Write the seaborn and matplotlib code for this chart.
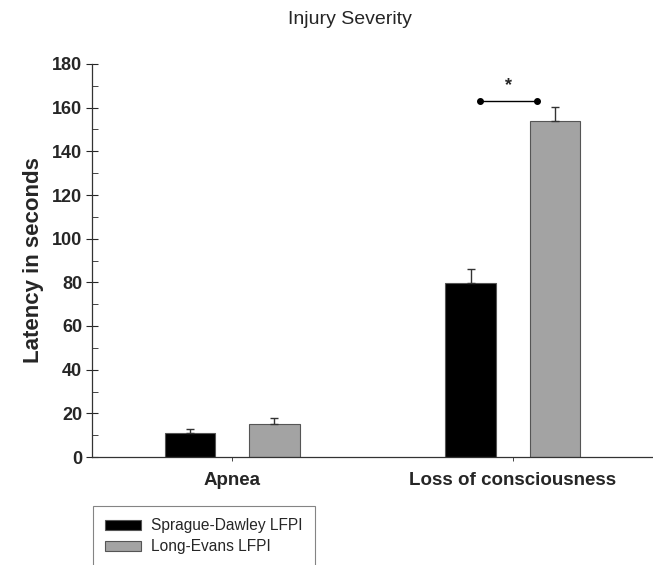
import pandas as pd
import matplotlib.pyplot as plt
import seaborn as sns
from matplotlib.ticker import MultipleLocator

# values
measures = ["Apnea", "Loss of consciousness"]
groups = ["Sprague-Dawley LFPI", "Long-Evans LFPI"]
sd_mean = [11.0, 79.6]
le_mean = [15.1, 153.9]
sd_err = [1.8, 6.4]
le_err = [2.8, 6.6]

df = pd.DataFrame({
    "measure": measures * 2,
    "group": [groups[0]] * 2 + [groups[1]] * 2,
    "latency": sd_mean + le_mean,
})
errs = {groups[0]: sd_err, groups[1]: le_err}

sns.set_style("ticks")
plt.rcParams["font.family"] = ["Liberation Sans", "DejaVu Sans"]

fig = plt.figure(figsize=(6.53, 5.65), dpi=100)
ax = fig.add_axes([92 / 653, 1 - 457 / 565, 1 - 92 / 653, (457 - 64) / 565])

sns.barplot(data=df, x="measure", y="latency", hue="group", order=measures,
            hue_order=groups, palette=["black", "#a3a3a3"], width=0.6, gap=0.4,
            edgecolor="#555555", linewidth=0.8, errorbar=None, legend=False, ax=ax)

# error bars, upper side only
for cont, g in zip(ax.containers, groups):
    xs = [p.get_x() + p.get_width() / 2 for p in cont]
    hs = [p.get_height() for p in cont]
    ax.errorbar(xs, hs, yerr=[[0] * len(hs), errs[g]], fmt="none",
                ecolor="#333333", elinewidth=1, capsize=2.6, capthick=1)

# significance marker
ax.plot([1 - 0.117, 1 + 0.085], [163, 163], color="black", lw=1,
        marker="o", markersize=4)
ax.text(0.985, 166, "*", ha="center", va="bottom", fontsize=13, fontweight="bold")

ax.set_xlim(-0.5, 1.5)
ax.set_ylim(0, 180)
ax.yaxis.set_major_locator(MultipleLocator(20))
ax.yaxis.set_minor_locator(MultipleLocator(10))
ax.tick_params(axis="y", which="major", direction="inout", length=8, width=0.8,
               labelsize=13, pad=3)
ax.tick_params(axis="y", which="minor", direction="in", length=4, width=0.6)
ax.tick_params(axis="x", direction="out", length=3, width=0.6, labelsize=13.5, pad=8)
for lab in ax.get_xticklabels() + ax.get_yticklabels():
    lab.set_fontweight("bold")

ax.set_xlabel("")
ax.set_ylabel("Latency in seconds", fontsize=16, fontweight="bold", labelpad=6)
sns.despine(ax=ax)
for s in ["left", "bottom"]:
    ax.spines[s].set_linewidth(0.9)
    ax.spines[s].set_color("#333333")

fig.text(350 / 653, 1 - 19 / 565, "Injury Severity", ha="center", va="center",
         fontsize=14)

handles = [plt.Rectangle((0, 0), 1, 1, facecolor=c, edgecolor="#555555", lw=0.8)
           for c in ["black", "#a3a3a3"]]
leg = fig.legend(handles, groups, loc="upper left",
                 bbox_to_anchor=(93 / 653, 1 - 506 / 565), fontsize=11.2,
                 frameon=True, fancybox=False, handlelength=2.3, handleheight=0.6,
                 labelspacing=0.38, borderpad=0.8, handletextpad=0.6,
                 borderaxespad=0)
leg.get_frame().set_edgecolor("#666666")
leg.get_frame().set_linewidth(0.8)

fig.savefig("out.png", dpi=100)
